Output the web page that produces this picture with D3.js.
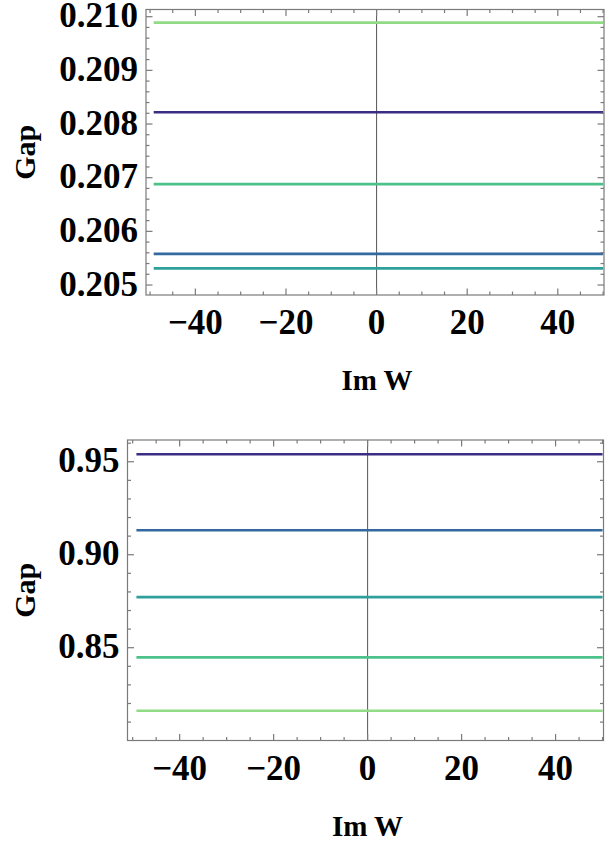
<!DOCTYPE html>
<html>
<head>
<meta charset="utf-8">
<script src="https://cdn.jsdelivr.net/npm/d3@7"></script>
<style>
  body { margin: 0; background: #fff; }
  svg { display: block; }
  text { font-family: "Liberation Serif", "Times New Roman", serif; font-weight: bold; fill: #000; }
</style>
</head>
<body>
<svg id="chart" width="605" height="844"></svg>
<script>
// --- data ---
const xExtent = [-49.2, 50];            // ImW range of the plotted curves
const xTicks = [-40, -20, 0, 20, 40];

const colors = ["#3b2c84", "#33699f", "#2f9f9b", "#4cc28a", "#92db86"];

// top panel gaps, same colour order
const gapsTop = [0.20822, 0.20558, 0.20531, 0.20688, 0.20989];
const yTicksTop = [0.205, 0.206, 0.207, 0.208, 0.209, 0.210];

// bottom panel gaps
const gapsBottom = [0.9540, 0.9132, 0.8772, 0.8448, 0.8161];
const yTicksBottom = [0.85, 0.90, 0.95];

const svg = d3.select("#chart");

function drawPanel(cfg) {
    const x = d3.scaleLinear().domain(cfg.xDomain).range([cfg.left, cfg.right]);
    const y = d3.scaleLinear().domain(cfg.yDomain).range([cfg.bottom, cfg.top]);
    const g = svg.append("g");
    const frameColor = "#7a7a7a";

    // axis at x = 0
    g.append("line")
        .attr("x1", x(0)).attr("x2", x(0))
        .attr("y1", cfg.top).attr("y2", cfg.bottom)
        .attr("stroke", "#555").attr("stroke-width", 1);

    // constant gap lines
    const line = d3.line().x(d => x(d[0])).y(d => y(d[1]));
    cfg.gaps.forEach((v, i) => {
        g.append("path")
            .datum(xExtent.map(t => [t, v]))
            .attr("d", line)
            .attr("fill", "none")
            .attr("stroke", colors[i])
            .attr("stroke-width", 2.6);
    });

    // frame
    g.append("rect")
        .attr("x", cfg.left).attr("y", cfg.top)
        .attr("width", cfg.right - cfg.left).attr("height", cfg.bottom - cfg.top)
        .attr("fill", "none").attr("stroke", frameColor).attr("stroke-width", 1.2);

    // ticks (inward, on all sides)
    const xMinor = d3.range(-50, 50.01, 5);
    xMinor.forEach(t => {
        const len = xTicks.includes(t) ? 6.5 : 3.5;
        g.append("line").attr("x1", x(t)).attr("x2", x(t))
            .attr("y1", cfg.bottom).attr("y2", cfg.bottom - len)
            .attr("stroke", frameColor).attr("stroke-width", 1.2);
        g.append("line").attr("x1", x(t)).attr("x2", x(t))
            .attr("y1", cfg.top).attr("y2", cfg.top + len)
            .attr("stroke", frameColor).attr("stroke-width", 1.2);
    });
    cfg.yMinor.forEach(t => {
        const major = cfg.yTicks.some(m => Math.abs(m - t) < 1e-9);
        const len = major ? 6.5 : 3.5;
        g.append("line").attr("x1", cfg.left).attr("x2", cfg.left + len)
            .attr("y1", y(t)).attr("y2", y(t))
            .attr("stroke", frameColor).attr("stroke-width", 1.2);
        g.append("line").attr("x1", cfg.right).attr("x2", cfg.right - len)
            .attr("y1", y(t)).attr("y2", y(t))
            .attr("stroke", frameColor).attr("stroke-width", 1.2);
    });

    // tick labels
    g.selectAll(".xl").data(xTicks).enter().append("text")
        .attr("x", d => x(d))
        .attr("y", cfg.bottom + 39)
        .attr("text-anchor", "middle")
        .style("font-size", "35px")
        .text(d => d < 0 ? "\u2212" + Math.abs(d) : d);

    g.selectAll(".yl").data(cfg.yTicks).enter().append("text")
        .attr("x", cfg.left - 8)
        .attr("y", d => y(d) + 10.5)
        .attr("text-anchor", "end")
        .style("font-size", "35px")
        .text(d => d.toFixed(cfg.digits));

    // axis titles
    g.append("text")
        .attr("x", (cfg.left + cfg.right) / 2 + 2)
        .attr("y", cfg.bottom + 95)
        .attr("text-anchor", "middle")
        .style("font-size", "29px")
        .text("Im W");

    g.append("text")
        .attr("transform", `translate(35,${(cfg.top + cfg.bottom) / 2}) rotate(-90)`)
        .attr("text-anchor", "middle")
        .style("font-size", "30px")
        .text("Gap");
}

drawPanel({
    left: 146, right: 604, top: 9.5, bottom: 295,
    xDomain: [-50.9, 50.2],
    yDomain: [0.204814, 0.210134],
    gaps: gapsTop,
    yTicks: yTicksTop,
    yMinor: d3.range(0, 27).map(i => 0.2048 + i * 0.0002).filter(v => v > 0.204814 && v < 0.210134),
    digits: 3
});

drawPanel({
    left: 127.5, right: 603.5, top: 440, bottom: 740.5,
    xDomain: [-51.1, 50.2],
    yDomain: [0.8001, 0.9617],
    gaps: gapsBottom,
    yTicks: yTicksBottom,
    yMinor: d3.range(0, 17).map(i => 0.80 + i * 0.01).filter(v => v > 0.8001 && v < 0.9617),
    digits: 2
});
</script>
</body>
</html>
